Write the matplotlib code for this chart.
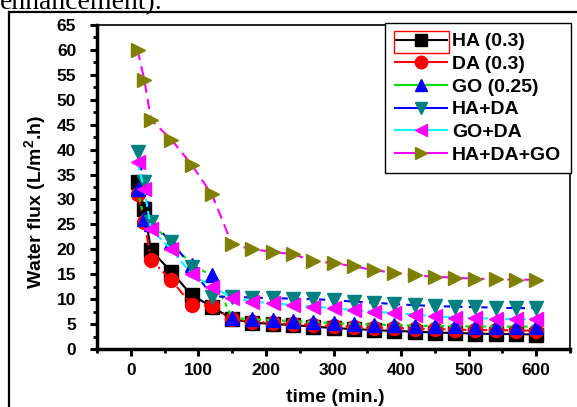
import matplotlib
matplotlib.use('Agg')
import matplotlib.pyplot as plt
from matplotlib.lines import Line2D
from matplotlib.patches import Rectangle
from matplotlib.ticker import MultipleLocator

plt.rcParams['font.family'] = ['Liberation Sans', 'DejaVu Sans']
plt.rcParams['font.weight'] = 'bold'
plt.rcParams['mathtext.fontset'] = 'custom'
plt.rcParams['mathtext.rm'] = 'Liberation Sans:bold'
plt.rcParams['mathtext.bf'] = 'Liberation Sans:bold'

# sampling times (min.)
time_min = [10, 20, 30, 60, 90, 120, 150, 180, 210, 240, 270, 300,
            330, 360, 390, 420, 450, 480, 510, 540, 570, 600]

ha = [33.5, 28, 19.8, 15.5, 10.8, 8.5, 6.0, 5.3, 5.0, 4.8, 4.5, 4.2,
      4.0, 3.8, 3.6, 3.5, 3.3, 3.2, 3.1, 3.0, 3.0, 2.9]
da = [31, 25.5, 17.9, 13.8, 8.9, 8.6, 6.0, 5.5, 5.2, 5.0, 4.8, 4.6,
      4.5, 4.3, 4.2, 4.1, 4.0, 3.9, 3.8, 3.8, 3.7, 3.7]
go = [32, 26, 25, 21.5, 16.8, 14.8, 6.2, 6.0, 5.8, 5.6, 5.4, 5.2,
      5.0, 4.9, 4.8, 4.7, 4.6, 4.6, 4.5, 4.5, 4.5, 4.5]
ha_da = [39.5, 33.5, 25.5, 21.5, 16.5, 10.5, 10.5, 10.3, 10.2, 10.1, 10.0, 9.8,
         9.5, 9.3, 9.0, 8.8, 8.6, 8.5, 8.4, 8.3, 8.2, 8.2]
go_da = [37.5, 32, 24, 20, 15, 12.5, 10.3, 9.5, 9.2, 8.8, 8.5, 8.2,
         7.8, 7.5, 7.2, 6.9, 6.6, 6.3, 6.2, 6.1, 6.0, 6.0]
ha_da_go = [60, 54, 46, 42, 37, 31, 21, 20, 19.5, 19, 17.7, 17.2,
            16.6, 15.8, 15.3, 14.8, 14.5, 14.3, 14.1, 14.0, 13.9, 13.9]

labels = ['HA (0.3)', 'DA (0.3)', 'GO (0.25)', 'HA+DA', 'GO+DA', 'HA+DA+GO']
series = [ha, da, go, ha_da, go_da, ha_da_go]
line_colors = ['black', 'red', '#00e000', 'blue', 'cyan', 'magenta']
marker_colors = ['black', 'red', 'blue', '#008080', 'magenta', '#808000']
markers = ['s', 'o', '^', 'v', '<', '>']
msizes = [9.5, 10, 10.5, 10.5, 10.5, 10.5]
dashes = ['-', (0, (5, 2, 1, 2)), (0, (2, 2)), (0, (3, 3)), (0, (4, 2)), (0, (5, 3))]

fig = plt.figure(figsize=(5.77, 4.07), dpi=100)
ax = fig.add_axes([97 / 577, 1 - 349 / 407, 473 / 577, 324 / 407])

for y, lc, mc, m, ms, ls in zip(series, line_colors, marker_colors, markers, msizes, dashes):
    ax.plot(time_min, y, color=lc, linestyle=ls, linewidth=1.5,
            marker=m, markersize=ms, markerfacecolor=mc, markeredgecolor=mc,
            zorder=3)

ax.set_xlim(-50, 650)
ax.set_ylim(0, 65)
ax.xaxis.set_major_locator(MultipleLocator(100))
ax.xaxis.set_minor_locator(MultipleLocator(50))
ax.yaxis.set_major_locator(MultipleLocator(5))
ax.yaxis.set_minor_locator(MultipleLocator(2.5))

for side in ['left', 'bottom']:
    ax.spines[side].set_linewidth(2.5)
for side in ['top', 'right']:
    ax.spines[side].set_linewidth(1.2)

ax.tick_params(which='major', direction='out', length=5, width=2.2,
               labelsize=12.5, top=False, right=False)
ax.tick_params(which='minor', direction='out', length=3, width=2, top=False, right=False)
ax.tick_params(axis='y', which='major', pad=10)
ax.tick_params(axis='x', which='major', pad=5)

ax.set_xlabel('time (min.)', fontsize=14, fontweight='bold')
ax.set_ylabel(r'Water flux (L/m$^{\mathbf{2}}$.h)', fontsize=14, fontweight='bold')
ax.xaxis.set_label_coords(0.503, -0.125)
ax.yaxis.set_label_coords(-0.102, 0.454)

# legend with solid lines like the original
handles = [Line2D([0], [0], color=lc, linestyle='-', linewidth=1.5, marker=m,
                  markersize=9, markerfacecolor=mc, markeredgecolor=mc)
           for lc, mc, m in zip(line_colors, marker_colors, markers)]
leg = ax.legend(handles, labels, loc='upper right', bbox_to_anchor=(1.002, 1.006),
                borderaxespad=0, handlelength=2.7, handletextpad=0.25,
                labelspacing=0.26, borderpad=0.5, fancybox=False, framealpha=1,
                edgecolor='black', prop={'weight': 'bold', 'size': 14})
leg.get_frame().set_linewidth(1.0)

# red selection box around the first legend entry
fig.canvas.draw()
tb = leg.get_texts()[0].get_window_extent(fig.canvas.get_renderer())
hw = 2.7 * 14 * 100 / 72
right = tb.x0 - 3
cy = (tb.y0 + tb.y1) / 2
fig.patches.append(Rectangle(((right - hw - 2) / 577, (cy - 11) / 407), (hw + 2) / 577, 22 / 407,
                             transform=fig.transFigure, fill=False,
                             edgecolor='red', linewidth=1.0, zorder=10))

# outer frame of the page figure
fig.add_artist(Line2D([9 / 577, 9 / 577], [0, 1 - 12 / 407], color='black',
                      linewidth=1.6, transform=fig.transFigure))
fig.add_artist(Line2D([9 / 577, 1], [1 - 12 / 407, 1 - 12 / 407], color='black',
                      linewidth=1.6, transform=fig.transFigure))

# clipped caption text from the page above
fig.text(0.0, 1 - 9 / 407, 'enhancement).', fontsize=20, fontweight='normal',
         family='Liberation Serif', va='baseline', ha='left')

fig.savefig('out.png', dpi=100)
